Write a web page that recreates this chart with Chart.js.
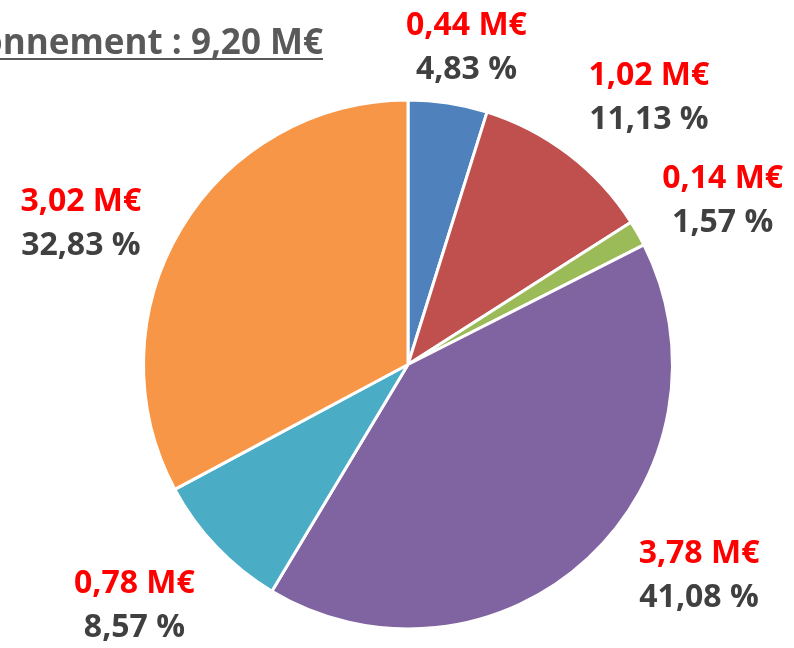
<!DOCTYPE html>
<html>
<head>
<meta charset="utf-8">
<script src="https://cdn.jsdelivr.net/npm/chart.js@4"></script>
<style>
  html, body { margin: 0; padding: 0; background: #fff; }
  #myChart { display: block; }
</style>
</head>
<body>
<canvas id="myChart" width="794" height="648"></canvas>
<script>
// data
const categories = ["Poste 1", "Poste 2", "Poste 3", "Poste 4", "Poste 5", "Poste 6"];
const amounts = ["0,44", "1,02", "0,14", "3,78", "0,78", "3,02"]; // M€
const shares = [4.83, 11.13, 1.57, 41.08, 8.57, 32.83]; // %
const totalLabel = "Fonctionnement : 9,20 M€";

const colors = ["#4F81BD", "#C0504D", "#9BBB59", "#8064A2", "#4BACC6", "#F79646"];
// small nudges so the labels sit where Excel put them
const labelShift = [[7, -4], [34, -15], [19, -7], [59, -20], [-27, 23], [-35, 22]];

const FONT = "'Open Sans', 'DejaVu Sans', sans-serif";

const fmtPct = (v) => v.toFixed(2).replace(".", ",") + " %";

const titlePlugin = {
  id: "underlinedTitle",
  afterDraw(chart) {
    const ctx = chart.ctx;
    ctx.save();
    ctx.font = "bold 35px " + FONT;
    ctx.fillStyle = "#595959";
    ctx.textAlign = "right";
    ctx.textBaseline = "alphabetic";
    const right = 323;
    const base = 54;
    ctx.fillText(totalLabel, right, base);
    const w = ctx.measureText(totalLabel).width;
    ctx.fillRect(right - w, base + 4, w, 2);
    ctx.restore();
  },
};

const labelPlugin = {
  id: "outsideLabels",
  afterDatasetsDraw(chart) {
    const ctx = chart.ctx;
    const meta = chart.getDatasetMeta(0);
    ctx.save();
    ctx.font = "bold 32px " + FONT;
    ctx.textAlign = "center";
    ctx.textBaseline = "middle";
    meta.data.forEach((arc, i) => {
      const { x, y, startAngle, endAngle, outerRadius } = arc.getProps(
        ["x", "y", "startAngle", "endAngle", "outerRadius"], true
      );
      const mid = (startAngle + endAngle) / 2;
      const cx = Math.cos(mid), cy = Math.sin(mid);
      const bx = x + cx * (outerRadius + 14) + cx * 62 + labelShift[i][0];
      const by = y + cy * (outerRadius + 14) + cy * 38 + labelShift[i][1];
      ctx.fillStyle = "#FF0000";
      ctx.fillText(amounts[i] + " M€", bx, by - 22);
      ctx.fillStyle = "#404040";
      ctx.fillText(fmtPct(shares[i]), bx, by + 22);
    });
    ctx.restore();
  },
};

const ctx = document.getElementById("myChart").getContext("2d");
new Chart(ctx, {
  type: "pie",
  data: {
    labels: categories,
    datasets: [
      {
        data: shares,
        backgroundColor: colors,
        borderColor: "#FFFFFF",
        borderWidth: 3,
      },
    ],
  },
  options: {
    responsive: false,
    animation: false,
    layout: { padding: { left: 142, right: 120, top: 98, bottom: 17 } },
    plugins: {
      legend: { display: false },
      tooltip: { enabled: false },
    },
  },
  plugins: [titlePlugin, labelPlugin],
});
</script>
</body>
</html>
